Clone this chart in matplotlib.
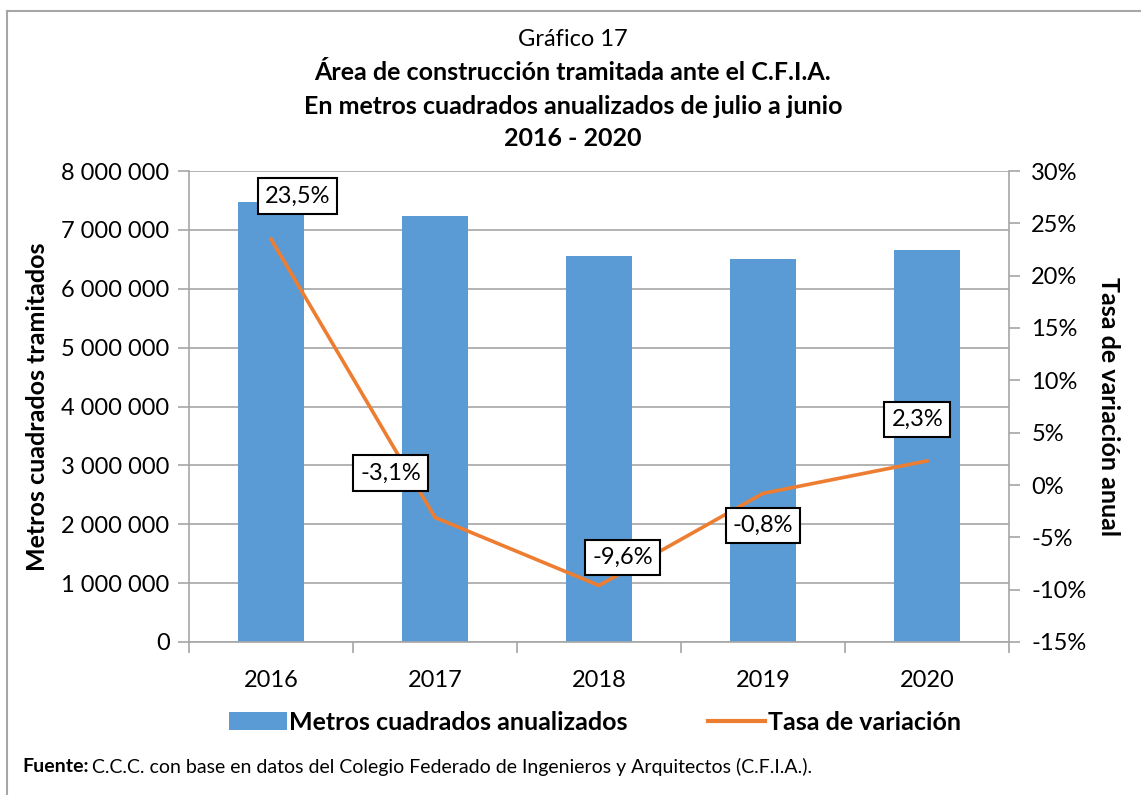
import matplotlib
matplotlib.use('Agg')
import matplotlib.pyplot as plt
from matplotlib.lines import Line2D
from matplotlib.patches import Patch
from matplotlib.ticker import FuncFormatter, MultipleLocator

plt.rcParams['font.family'] = ['Lato', 'DejaVu Sans']

# datos
years = ['2016', '2017', '2018', '2019', '2020']
metros = [7470000, 7240000, 6550000, 6500000, 6650000]
tasa = [23.5, -3.1, -9.6, -0.8, 2.3]
tasa_labels = ['23,5%', '-3,1%', '-9,6%', '-0,8%', '2,3%']

# desplazamiento de las etiquetas (puntos)
label_offsets = [(19, 31), (-32, 32), (17, 20), (0, -23), (-7, 30)]

BLUE = '#5B9BD5'
ORANGE = '#ED7D31'
GRID = '#A6A6A6'

fig = plt.figure(figsize=(11.41, 7.95), dpi=100)
ax = fig.add_axes([189 / 1141, 1 - 642 / 795, 820 / 1141, 471 / 795])
ax2 = ax.twinx()

x = list(range(len(years)))
ax.bar(x, metros, width=0.4, color=BLUE, zorder=2)
ax.set_xlim(-0.5, len(years) - 0.5)
ax.set_ylim(0, 8000000)
ax.yaxis.set_major_locator(MultipleLocator(1000000))
ax.yaxis.set_major_formatter(FuncFormatter(lambda v, p: f'{int(v):,}'.replace(',', ' ')))
ax.grid(axis='y', color=GRID, linewidth=1.2, zorder=0)
ax.set_axisbelow(True)

ax.set_xticks(x)
ax.set_xticklabels(years)
ax.set_xticks([i - 0.5 for i in range(len(years) + 1)], minor=True)
ax.tick_params(axis='x', which='major', length=0, pad=20, labelsize=17)
ax.tick_params(axis='x', which='minor', length=8, color=GRID, width=1.2)
ax.tick_params(axis='y', length=8, color=GRID, width=1.2, labelsize=17, pad=6)

for s in ['top', 'right']:
    ax.spines[s].set_visible(False)
for s in ['left', 'bottom']:
    ax.spines[s].set_color(GRID)
    ax.spines[s].set_linewidth(1.2)

ax2.plot(x, tasa, color=ORANGE, linewidth=2.6, solid_joinstyle='miter', zorder=3)
ax2.set_ylim(-15, 30)
ax2.yaxis.set_major_locator(MultipleLocator(5))
ax2.yaxis.set_major_formatter(FuncFormatter(lambda v, p: f'{int(round(v))}%'))
ax2.tick_params(axis='y', length=8, color=GRID, width=1.2, labelsize=17, pad=8)
for s in ['top', 'left', 'bottom']:
    ax2.spines[s].set_visible(False)
ax2.spines['right'].set_color(GRID)
ax2.spines['right'].set_linewidth(1.2)

for xi, yi, txt, off in zip(x, tasa, tasa_labels, label_offsets):
    ax2.annotate(txt, (xi, yi), xytext=off, textcoords='offset points',
                 ha='center', va='center', fontsize=17, zorder=5,
                 bbox=dict(boxstyle='square,pad=0.3', fc='white', ec='black', lw=1.5))

ax.set_ylabel('Metros cuadrados tramitados', fontsize=18, fontweight='bold', labelpad=9)
ax2.set_ylabel('Tasa de variación anual', fontsize=18, fontweight='bold', rotation=-90, labelpad=24)

# titulo
fig.text(0.502, 1 - 40 / 795, 'Gráfico 17', ha='center', va='center', fontsize=17)
fig.text(0.502, 1 - 73 / 795, 'Área de construcción tramitada ante el C.F.I.A.',
         ha='center', va='center', fontsize=18, fontweight='bold')
fig.text(0.502, 1 - 106 / 795, 'En metros cuadrados anualizados de julio a junio',
         ha='center', va='center', fontsize=18, fontweight='bold')
fig.text(0.502, 1 - 138 / 795, '2016 - 2020', ha='center', va='center', fontsize=18, fontweight='bold')

# leyenda
handles = [Patch(facecolor=BLUE, edgecolor='none'),
           Line2D([0], [0], color=ORANGE, linewidth=3)]
fig.legend(handles, ['Metros cuadrados anualizados', 'Tasa de variación'],
           loc='center', bbox_to_anchor=(595 / 1141, 1 - 722 / 795), ncol=2, frameon=False,
           prop={'size': 18, 'weight': 'bold'}, handlelength=2.3, handletextpad=0.1,
           columnspacing=3.2)

# fuente
t = fig.text(22 / 1141, 1 - 767 / 795, 'Fuente:', fontsize=14, fontweight='bold', va='center')
fig.canvas.draw()
bb = t.get_window_extent()
fig.text(bb.x1 / fig.bbox.width + 0.003, 1 - 767 / 795,
         'C.C.C. con base en datos del Colegio Federado de Ingenieros y Arquitectos (C.F.I.A.).',
         fontsize=14, va='center')

# borde del grafico
fig.add_artist(Line2D([7 / 1141, 1], [1 - 11 / 795, 1 - 11 / 795], color=GRID, lw=1.5))
fig.add_artist(Line2D([7 / 1141, 7 / 1141], [0, 1 - 11 / 795], color=GRID, lw=1.5))

fig.savefig('out.png', dpi=100)
